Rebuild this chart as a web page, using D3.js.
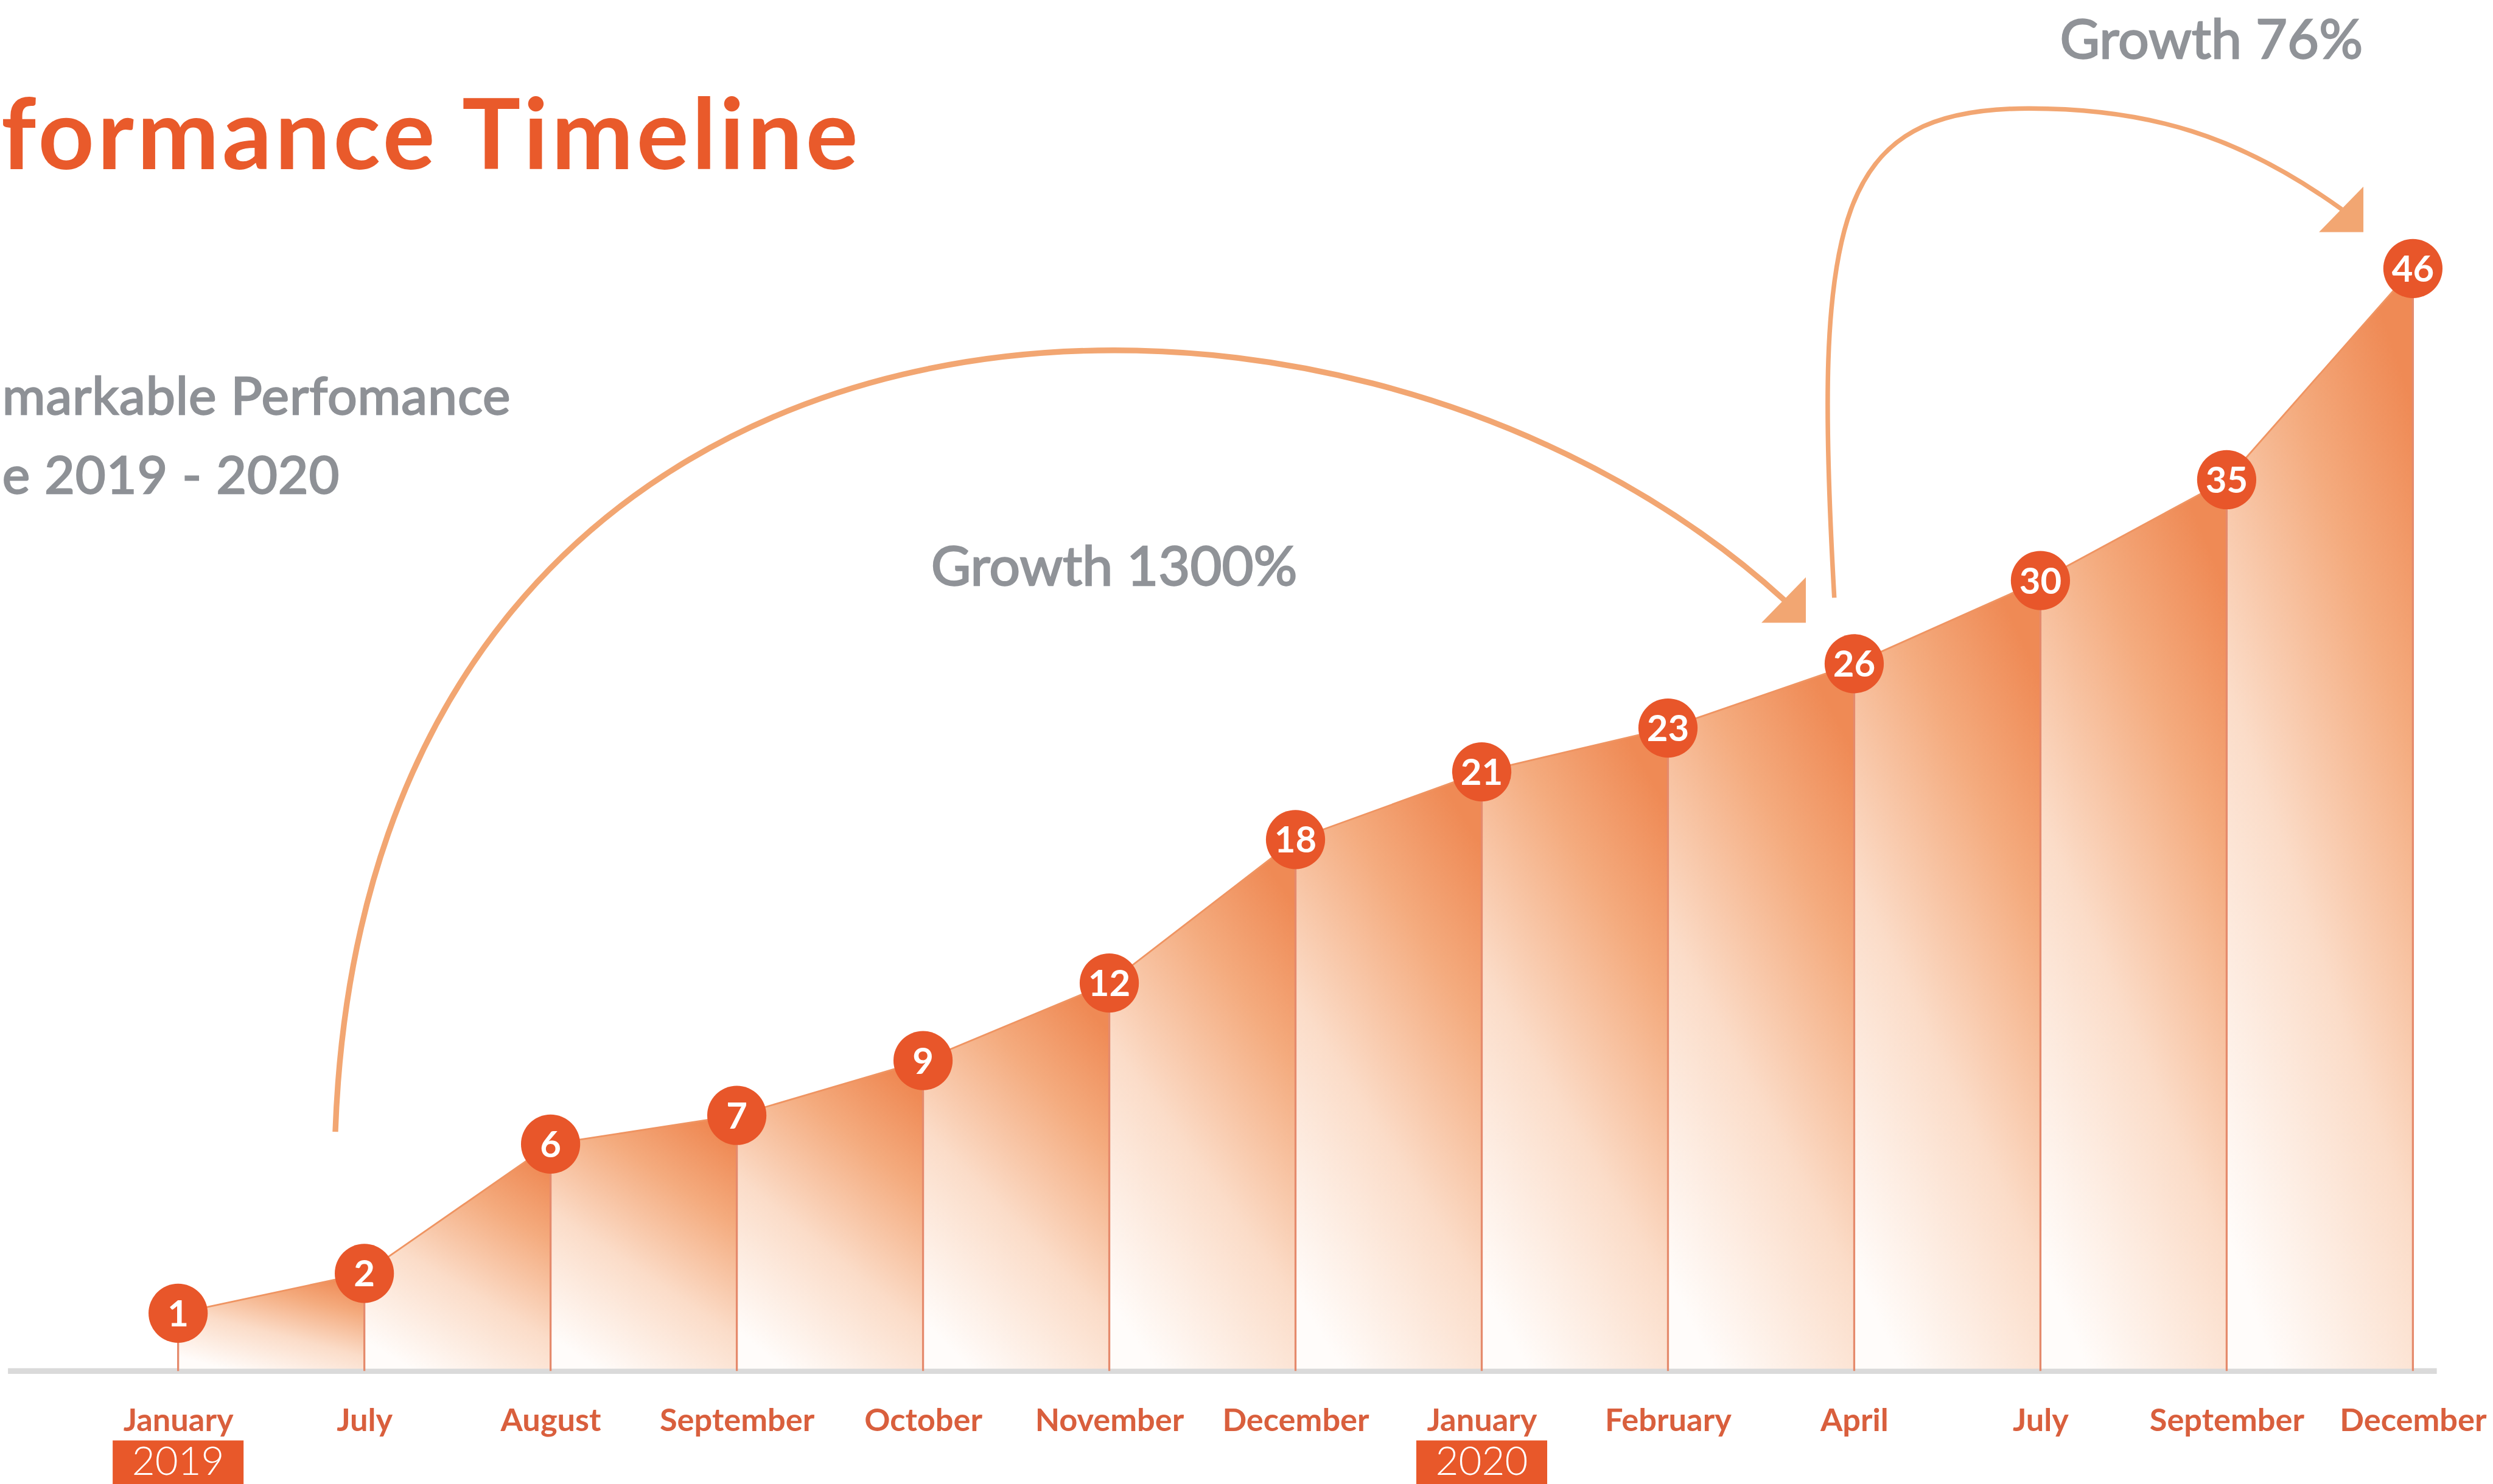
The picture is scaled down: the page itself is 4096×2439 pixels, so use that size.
<!DOCTYPE html>
<html>
<head>
<meta charset="utf-8">
<script src="https://cdn.jsdelivr.net/npm/d3@7"></script>
<style>
  html, body { margin: 0; padding: 0; background: #ffffff; overflow: hidden; }
  svg { display: block; }
</style>
</head>
<body>
<svg id="chart" width="4096" height="2439"></svg>
<script>
// ---------------- data ----------------
const months = ["January", "July", "August", "September", "October", "November", "December",
                "January", "February", "April", "July", "September", "December"];
const years  = [2019, 2019, 2019, 2019, 2019, 2019, 2019, 2020, 2020, 2020, 2020, 2020, 2020];
const values = [1, 2, 6, 7, 9, 12, 18, 21, 23, 26, 30, 35, 46];
const yearTags = ["2019", "2020"];
// texts exactly as they are visible in the reference (its left edge crops them)
const titleText = "formance Timeline";
const subtitleLines = ["markable Perfomance", "e 2019 - 2020"];
const growthLabels = ["Growth 1300%", "Growth 76%"];
const growthFrom = [1, 9];   // index of start point
const growthTo   = [9, 12];  // index of end point

// ---------------- setup ----------------
const S = 0.935;                       // reference -> window scale
const svg = d3.select("#chart");
svg.append("rect").attr("width", 4096).attr("height", 2439).attr("fill", "#ffffff");
const g = svg.append("g").attr("transform", `scale(${S})`);

const keys = months.map((m, i) => m + " " + years[i]);
const data = keys.map((k, i) => ({ key: k, month: months[i], year: years[i], value: values[i] }));

const baseY = 2406;
const x = d3.scalePoint().domain(keys).range([313, 4240]);
const y = d3.scalePow().exponent(0.78).domain([0, d3.max(values)]).range([baseY, 472]);

const FONT = "Lato, 'Open Sans', 'DejaVu Sans', sans-serif";

// ---------------- defs ----------------
const defs = svg.append("defs");
const grad = defs.append("linearGradient").attr("id", "colFill")
  .attr("x1", 0.75).attr("y1", 0).attr("x2", 0.25).attr("y2", 1);
[[0, "#ef8a55"], [0.25, "#f4ab7e"], [0.6, "#fbdcc8"], [1, "#fffcfa"]].forEach(([o, c]) =>
  grad.append("stop").attr("offset", o).attr("stop-color", c));

// ---------------- title & subtitle ----------------
g.append("text")
  .attr("x", 2).attr("y", 297)
  .attr("text-anchor", "start")
  .attr("font-family", FONT).attr("font-weight", 700).attr("font-size", 172)
  .attr("letter-spacing", 5.5)
  .attr("fill", "#e95a2b")
  .text(titleText);

const subBase = [728, 867];
g.selectAll("text.sub").data(subtitleLines).join("text")
  .attr("class", "sub")
  .attr("x", 4).attr("y", (d, i) => subBase[i])
  .attr("text-anchor", "start")
  .attr("font-family", FONT).attr("font-weight", 400).attr("font-size", 92)
  .attr("letter-spacing", 1)
  .attr("fill", "#8e9196")
  .attr("stroke", "#8e9196").attr("stroke-width", 2.5)
  .text(d => d);

// ---------------- baseline ----------------
g.append("rect")
  .attr("x", 14).attr("y", baseY - 1).attr("width", 4268).attr("height", 10)
  .attr("fill", "#dadada");

// ---------------- column areas ----------------
const area = d3.area()
  .x(d => x(d.key))
  .y0(baseY)
  .y1(d => y(d.value));

const pairs = d3.pairs(data);
g.selectAll("path.col").data(pairs).join("path")
  .attr("class", "col")
  .attr("d", d => area(d))
  .attr("fill", "url(#colFill)");

// top edge
g.append("path")
  .attr("d", d3.line().x(d => x(d.key)).y(d => y(d.value))(data))
  .attr("fill", "none").attr("stroke", "#ef9462").attr("stroke-width", 3);

// vertical dividers
g.selectAll("line.div").data(data).join("line")
  .attr("class", "div")
  .attr("x1", d => x(d.key)).attr("x2", d => x(d.key))
  .attr("y1", d => y(d.value)).attr("y2", baseY + 4)
  .attr("stroke", "#e58a6c").attr("stroke-width", 3.5);

// ---------------- growth arrows ----------------
const arrowColor = "#f2a672";
function arrowHead(cx, cy) {
  return `M${cx},${cy}L${cx},${cy - 80}L${cx - 78},${cy}Z`;
}

// Arrow 1
{
  const a = data[growthFrom[0]], b = data[growthTo[0]];
  const p0 = [x(a.key) - 51, y(a.value) - 249];
  const c = [x(b.key) - 85, y(b.value) - 72];
  const p3 = [c[0] - 38, c[1] - 40];
  const p1 = [p0[0] + 56, p0[1] - 1583];
  const p2 = [p3[0] - 790, p3[1] - 721];
  const path = d3.path();
  path.moveTo(...p0);
  path.bezierCurveTo(...p1, ...p2, ...p3);
  g.append("path").attr("d", path.toString())
    .attr("fill", "none").attr("stroke", arrowColor).attr("stroke-width", 10)
    .attr("stroke-linecap", "butt");
  g.append("path").attr("d", arrowHead(c[0], c[1])).attr("fill", arrowColor);
}

// Arrow 2
{
  const a = data[growthFrom[1]], b = data[growthTo[1]];
  const p0 = [x(a.key) - 35, y(a.value) - 116];
  const c = [x(b.key) - 87, y(b.value) - 64];
  const p3 = [c[0] - 38, c[1] - 40];
  const m = [p0[0] + 342, p0[1] - 860];
  const path = d3.path();
  path.moveTo(...p0);
  path.bezierCurveTo(p0[0] - 38, p0[1] - 673, p0[0] + 2, m[1], m[0], m[1]);
  path.bezierCurveTo(m[0] + 210, m[1], p3[0] - 180, p3[1] - 130, p3[0], p3[1]);
  g.append("path").attr("d", path.toString())
    .attr("fill", "none").attr("stroke", arrowColor).attr("stroke-width", 8)
    .attr("stroke-linecap", "butt");
  g.append("path").attr("d", arrowHead(c[0], c[1])).attr("fill", arrowColor);
}

// growth labels
const growthPos = [{ x: 1636, y: 1029, anchor: "start" }, { x: 4152, y: 103, anchor: "end" }];
g.selectAll("text.growth").data(growthLabels).join("text")
  .attr("class", "growth")
  .attr("x", (d, i) => growthPos[i].x).attr("y", (d, i) => growthPos[i].y)
  .attr("text-anchor", (d, i) => growthPos[i].anchor)
  .attr("font-family", FONT).attr("font-weight", 400).attr("font-size", 96)
  .attr("fill", "#909398")
  .attr("stroke", "#909398").attr("stroke-width", 2.5)
  .text(d => d);

// ---------------- markers ----------------
const mk = g.selectAll("g.marker").data(data).join("g")
  .attr("class", "marker")
  .attr("transform", d => `translate(${x(d.key)},${y(d.value)})`);
mk.append("circle").attr("r", 52).attr("fill", "#e8562a");
mk.append("text")
  .attr("text-anchor", "middle").attr("dy", "0.36em")
  .attr("font-family", FONT).attr("font-weight", 700).attr("font-size", 64)
  .attr("fill", "#ffffff")
  .text(d => d.value);

// ---------------- x axis (month labels) ----------------
const axis = d3.axisBottom(x).tickSize(0).tickFormat((k, i) => months[i]);
const ax = g.append("g").attr("transform", "translate(0,2515)").call(axis);
ax.select(".domain").remove();
ax.selectAll("text")
  .attr("y", 0).attr("dy", 0)
  .attr("font-family", FONT).attr("font-weight", 700).attr("font-size", 56)
  .attr("fill", "#d95f3d");

// ---------------- year tags ----------------
const tagData = yearTags.map(t => data.find(d => String(d.year) === t));
const tg = g.selectAll("g.year").data(tagData).join("g")
  .attr("class", "year")
  .attr("transform", d => `translate(${x(d.key)},0)`);
tg.append("rect").attr("x", -115).attr("y", 2532).attr("width", 230).attr("height", 100)
  .attr("fill", "#e8582a");
tg.append("text")
  .attr("y", 2593).attr("text-anchor", "middle")
  .attr("font-family", FONT).attr("font-weight", 300).attr("font-size", 70)
  .attr("fill", "#ffffff")
  .text((d, i) => yearTags[i]);
</script>
</body>
</html>
